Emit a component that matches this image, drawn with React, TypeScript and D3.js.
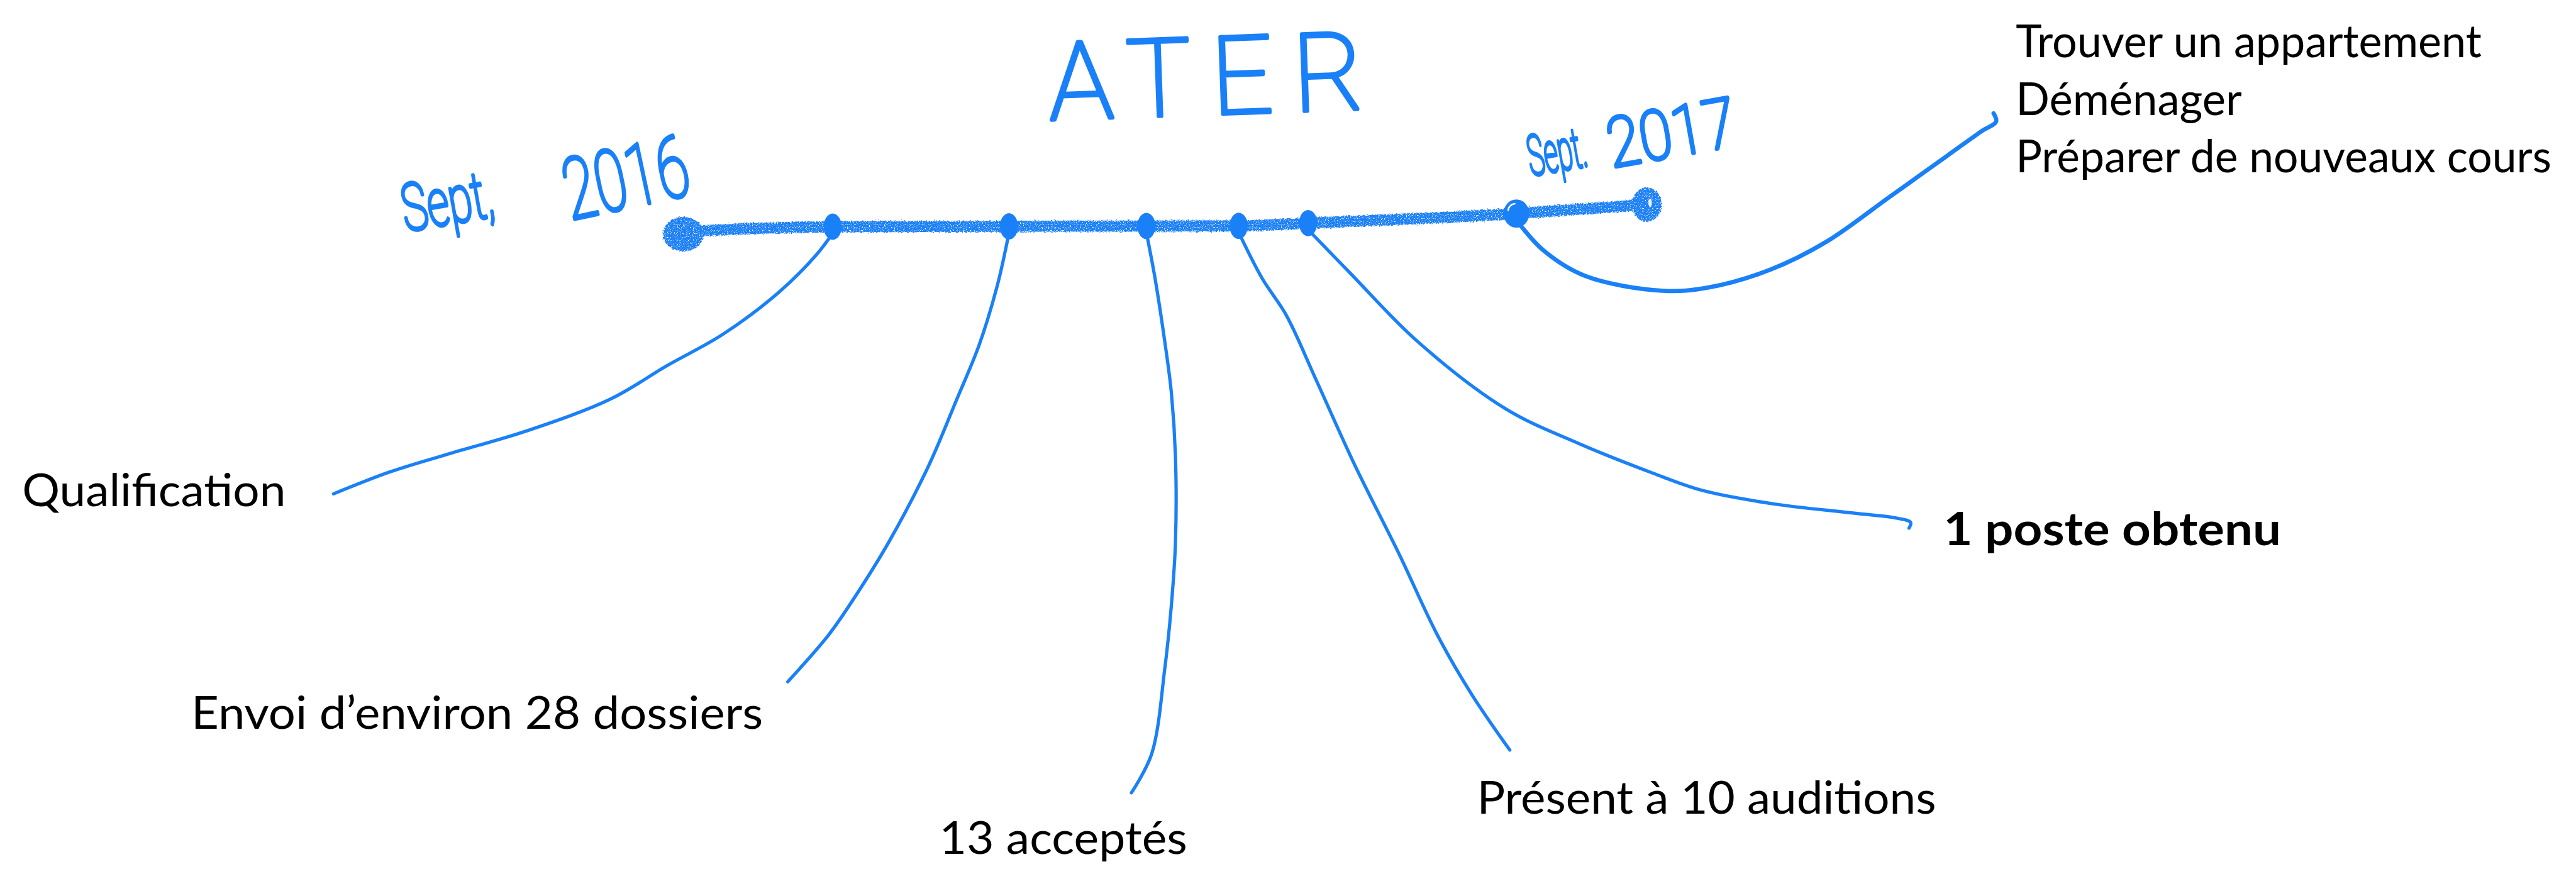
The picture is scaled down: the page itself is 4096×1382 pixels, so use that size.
import React from 'react';
import * as d3 from 'd3';

// --- data ---------------------------------------------------------------
// timeline events, in months since Sept. 2016
const eventMonths = [2.15, 4.69, 6.67, 8.0, 9.0, 12.0];
const eventLabels = [
  ['Qualification'],
  ['Envoi d’environ 28 dossiers'],
  ['13 acceptés'],
  ['Présent à 10 auditions'],
  ['1 poste obtenu'],
  ['Trouver un appartement', 'Déménager', 'Préparer de nouveaux cours'],
];
const eventBold = [false, false, false, false, true, false];
const startMonth = 0;
const endMonth = 13.88;
const title = 'ATER';
const dateWords = ['Sept,', 'Sept.'];
const dateYears = ['2016', '2017'];

// --- layout (sketch units: 1568 x 529 drawing) --------------------------
const SW = 1568;
const SH = 529;
const W = 4096;
const H = 1382;
const BLUE = '#1a80f7';

// hand drawn leader lines, from the node to the label
const leaders: [number, number][][] = [
  [[497, 155], [474, 178], [440, 203.5], [406, 222.6], [372, 242.7], [321.5, 262], [270.7, 277], [237, 287.4], [203, 300.6]],
  [[607, 174], [596, 210], [582, 244], [565.5, 283], [541, 330], [518, 367], [504, 387], [479.5, 415]],
  [[703, 169], [709, 208], [713, 239], [715.5, 278], [715.5, 330], [713, 368.5], [709, 407], [701, 459], [688.7, 482.6]],
  [[768, 169], [783, 192], [801, 231], [824.6, 283], [851.5, 337], [875, 386.7], [896, 423], [919, 456.6]],
  [[821.6, 166], [863, 208], [916.7, 249], [961, 270], [1006, 288], [1036, 298.5], [1080, 306.8], [1125, 312], [1155, 315.5], [1163, 318], [1162, 321.5]],
  [[939, 152], [965, 168], [1012, 177], [1040, 175], [1078, 164], [1112, 147], [1150, 120], [1185, 95], [1206, 80], [1215, 74], [1213.5, 69]],
];
const labelPos: [number, number][] = [
  [13.5, 308], [116.4, 443.7], [571.7, 520], [899, 495.5], [1183, 332], [1227, 35],
];
// measured line widths in the sketch
const labelWidths = [[160.5], [348], [151], [279.5], [205.5], [283.5, 137.6, 326]];
const lineGap = 35;

export default function App() {
  const sx = d3.scaleLinear().domain([0, SW]).range([0, W]);
  const sy = d3.scaleLinear().domain([0, SH]).range([0, H]);
  const k = W / SW;

  // months -> sketch position along the (slightly tilted) hand drawn timeline
  const mx = d3.scaleLinear().domain([0, 12]).range([416, 923]);
  const my = d3.scaleLinear()
    .domain([0, 2.15, 8, 9, 12, 13.88])
    .range([141, 138, 137.5, 135.8, 130, 124.5]);
  const px = (m: number) => sx(mx(m));
  const py = (m: number) => sy(my(m));

  const timeline = d3.line<number>()
    .x(m => px(m))
    .y(m => py(m))
    .curve(d3.curveMonotoneX)([startMonth, ...eventMonths, endMonth]);

  const leaderLine = d3.line<[number, number]>()
    .x(d => sx(d[0]))
    .y(d => sy(d[1]))
    .curve(d3.curveCatmullRom.alpha(0.5));

  const labelFont = 'Lato, "Open Sans", sans-serif';
  const handFont = 'Roboto, "DejaVu Sans", sans-serif';

  const handText = (
    text: string, x: number, y: number, size: number, len: number, angle: number,
    adjust: 'spacing' | 'spacingAndGlyphs'
  ) => (
    <text
      x={sx(x)} y={sy(y)}
      transform={`rotate(${angle} ${sx(x)} ${sy(y)})`}
      fontFamily={handFont} fontWeight={100} fontSize={size * k}
      fill={BLUE} stroke={BLUE} strokeWidth={2.3 * k}
      strokeLinejoin="round" strokeLinecap="round"
      textLength={len * k} lengthAdjust={adjust}
    >{text}</text>
  );

  return (
    <svg width={W} height={H} style={{ position: 'absolute', left: 0, top: 0, background: '#fff' }}>
      <defs>
        <filter id="crayon" filterUnits="userSpaceOnUse" x={0} y={0} width={W} height={H}>
          <feTurbulence type="fractalNoise" baseFrequency="0.45" numOctaves={2} seed={3} result="noise" />
          <feDisplacementMap in="SourceGraphic" in2="noise" scale={6} xChannelSelector="R" yChannelSelector="G" result="rough" />
          <feTurbulence type="fractalNoise" baseFrequency="0.8" numOctaves={1} seed={8} result="grain" />
          <feColorMatrix in="grain" type="matrix"
            values="0 0 0 0 0  0 0 0 0 0  0 0 0 0 0  0 0 0 -7 5" result="grainMask" />
          <feComposite in="rough" in2="grainMask" operator="in" />
        </filter>
      </defs>
      <rect width={W} height={H} fill="#fff" />

      {/* title + dates, hand written */}
      {handText(title, 639, 73, 66, 192, -2, 'spacing')}
      {handText(dateWords[0], 247, 141, 40, 56, -10, 'spacingAndGlyphs')}
      {handText(dateYears[0], 347, 134, 52, 77, -12, 'spacingAndGlyphs')}
      {handText(dateWords[1], 932, 107, 34, 36, -10, 'spacingAndGlyphs')}
      {handText(dateYears[1], 981, 102, 42, 79, -10, 'spacingAndGlyphs')}

      {/* leader lines */}
      {eventMonths.map((m, i) => (
        <path
          key={`l-${i}`}
          d={leaderLine([[mx(m), my(m) + 4], ...leaders[i]]) || ''}
          fill="none" stroke={BLUE}
          strokeWidth={(i === 5 ? 2.6 : 2) * k}
          strokeLinecap="round" strokeLinejoin="round"
        />
      ))}

      {/* the crayon timeline */}
      <g filter="url(#crayon)">
        <path d={timeline || ''} fill="none" stroke={BLUE} strokeWidth={6.8 * k} strokeLinecap="round" />
        <ellipse cx={px(startMonth)} cy={sy(my(startMonth) + 1.5)} rx={12.5 * k} ry={10.5 * k} fill={BLUE} />
        <ellipse cx={px(endMonth)} cy={py(endMonth)} rx={9 * k} ry={10.5 * k} fill={BLUE} />
      </g>
      <ellipse cx={px(endMonth) + 2 * k} cy={py(endMonth) - 1 * k} rx={1 * k} ry={2.6 * k} fill="#fff" opacity={0.9} />

      {/* event nodes */}
      {eventMonths.map((m, i) => i < 5 ? (
        <ellipse key={`n-${i}`} cx={px(m)} cy={py(m)} rx={5.5 * k} ry={8 * k} fill={BLUE} />
      ) : (
        <g key={`n-${i}`}>
          <ellipse cx={px(m)} cy={py(m)} rx={7.8 * k} ry={8.6 * k} fill={BLUE} />
          <path
            d={`M${px(m) - 5 * k},${py(m) - 2 * k} Q${px(m) - 4.5 * k},${py(m) - 5.5 * k} ${px(m) - 1 * k},${py(m) - 6 * k}`}
            fill="none" stroke="#fff" strokeWidth={1 * k} strokeLinecap="round"
          />
        </g>
      ))}

      {/* labels */}
      {eventLabels.map((lines, i) => (
        <text
          key={`t-${i}`}
          fontFamily={labelFont}
          fontWeight={eventBold[i] ? 700 : 400}
          fontSize={(eventBold[i] ? 28 : 27.5) * k}
          fill="#000"
        >
          {lines.map((ln, j) => (
            <tspan
              key={j}
              x={sx(labelPos[i][0])}
              y={sy(labelPos[i][1] + j * lineGap)}
              textLength={labelWidths[i][j] * k}
              lengthAdjust="spacingAndGlyphs"
            >{ln}</tspan>
          ))}
        </text>
      ))}
    </svg>
  );
}
